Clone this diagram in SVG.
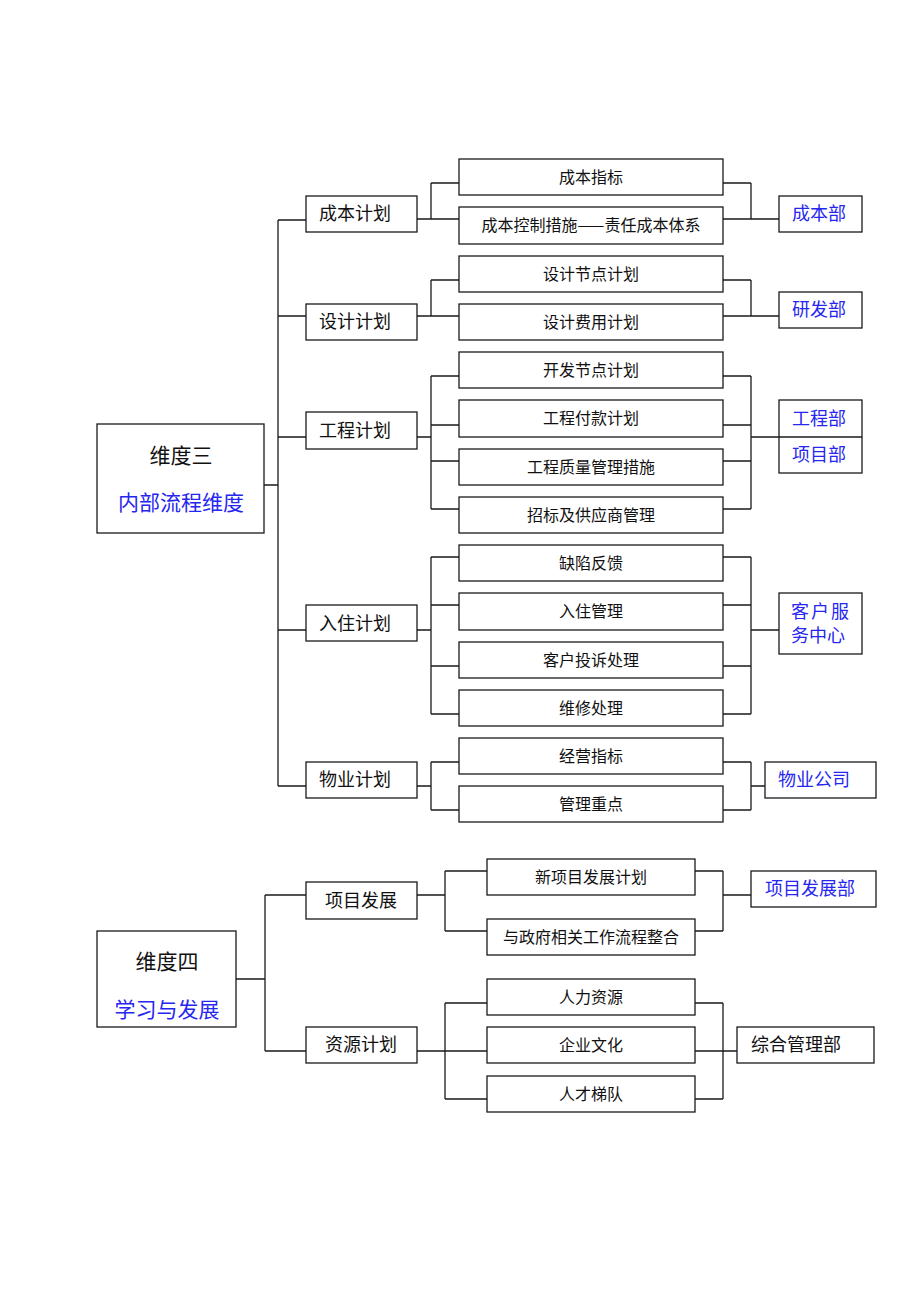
<svg xmlns="http://www.w3.org/2000/svg" width="920" height="1302" viewBox="0 0 920 1302">
<style>
rect{fill:#fff;stroke:#1a1a1a;stroke-width:1.3}
.c path{fill:none;stroke:#1a1a1a;stroke-width:1.3}
text{font-family:"Noto Sans CJK SC","Noto Sans",sans-serif;fill:#111;text-anchor:middle}
.l2{font-size:18px}
.l3{font-size:16px}
.d{font-size:18px;fill:#2626f0}
.t{font-size:21px}
.b{fill:#2626f0}
</style>
<rect width="920" height="1302" style="fill:#fff;stroke:none"/>
<g class="c" id="connectors">
<path d="M264 485H278M278 220V786M278 220H306M278 316H306M278 437H306M278 630H306M278 786H306"/>
<path d="M417 219H431M431 183V219M431 183H459M431 219H459"/>
<path d="M723 183H751M751 183V219M723 219H779"/>
<path d="M417 316H431M431 280V316M431 280H459M431 316H459"/>
<path d="M723 280H751M751 280V316M723 316H779"/>
<path d="M417 437H431M431 376V509M431 376H459M431 425H459M431 461H459M431 509H459"/>
<path d="M723 376H751M751 376V509M723 425H751M723 461H751M723 509H751M751 437H779"/>
<path d="M417 630H431M431 557V714M431 557H459M431 605H459M431 666H459M431 714H459"/>
<path d="M723 557H751M751 557V714M723 605H751M723 666H751M723 714H751M751 630H779"/>
<path d="M417 786H431M431 762V810M431 762H459M431 810H459"/>
<path d="M723 762H751M751 762V810M723 810H751M751 786H765"/>
<path d="M236 979H265M265 895V1051M265 895H306M265 1051H306"/>
<path d="M417 895H445M445 871V931M445 871H487M445 931H487"/>
<path d="M695 871H723M723 871V931M695 931H723M723 895H751"/>
<path d="M417 1051H487M445 1003V1099M445 1003H487M445 1099H487"/>
<path d="M695 1003H723M723 1003V1099M695 1099H723M695 1051H737"/>
</g>
<g id="dim3"><rect x="97" y="424" width="167" height="109"/><text class="t" x="181" y="463">维度三</text><text class="t b" x="181" y="510">内部流程维度</text></g>
<g id="n-cbjh"><rect x="306" y="196" width="111" height="36"/><text class="l2" x="355" y="220">成本计划</text></g>
<g id="n-sjjh"><rect x="306" y="304" width="111" height="36"/><text class="l2" x="355" y="328">设计计划</text></g>
<g id="n-gcjh"><rect x="306" y="412" width="111" height="37"/><text class="l2" x="355" y="437">工程计划</text></g>
<g id="n-rzjh"><rect x="306" y="605" width="111" height="36"/><text class="l2" x="355" y="630">入住计划</text></g>
<g id="n-wyjh"><rect x="306" y="762" width="111" height="36"/><text class="l2" x="355" y="786">物业计划</text></g>
<g id="n-cbzb"><rect x="459" y="159" width="264" height="36"/><text class="l3" x="591" y="183">成本指标</text></g>
<g id="n-cbkz"><rect x="459" y="207" width="264" height="37"/><text class="l3" x="591" y="231">成本控制措施——责任成本体系</text></g>
<g id="n-sjjd"><rect x="459" y="256" width="264" height="36"/><text class="l3" x="591" y="280">设计节点计划</text></g>
<g id="n-sjfy"><rect x="459" y="304" width="264" height="36"/><text class="l3" x="591" y="328">设计费用计划</text></g>
<g id="n-kfjd"><rect x="459" y="352" width="264" height="36"/><text class="l3" x="591" y="376">开发节点计划</text></g>
<g id="n-gcfk"><rect x="459" y="400" width="264" height="37"/><text class="l3" x="591" y="424">工程付款计划</text></g>
<g id="n-gczl"><rect x="459" y="449" width="264" height="36"/><text class="l3" x="591" y="473">工程质量管理措施</text></g>
<g id="n-zb"><rect x="459" y="497" width="264" height="36"/><text class="l3" x="591" y="521">招标及供应商管理</text></g>
<g id="n-qxfk"><rect x="459" y="545" width="264" height="36"/><text class="l3" x="591" y="569">缺陷反馈</text></g>
<g id="n-rzgl"><rect x="459" y="593" width="264" height="37"/><text class="l3" x="591" y="617">入住管理</text></g>
<g id="n-khts"><rect x="459" y="642" width="264" height="36"/><text class="l3" x="591" y="666">客户投诉处理</text></g>
<g id="n-wxcl"><rect x="459" y="690" width="264" height="36"/><text class="l3" x="591" y="714">维修处理</text></g>
<g id="n-jyzb"><rect x="459" y="738" width="264" height="36"/><text class="l3" x="591" y="762">经营指标</text></g>
<g id="n-glzd"><rect x="459" y="786" width="264" height="36"/><text class="l3" x="591" y="810">管理重点</text></g>
<g id="d-cbb"><rect x="779" y="196" width="83" height="36"/><text class="d" x="819" y="220">成本部</text></g>
<g id="d-yfb"><rect x="779" y="292" width="83" height="36"/><text class="d" x="819" y="316">研发部</text></g>
<g id="d-gcb"><rect x="779" y="400" width="83" height="73"/><path d="M779 437H862" style="stroke:#1a1a1a;stroke-width:1.3"/><text class="d" x="819" y="425">工程部</text><text class="d" x="819" y="461">项目部</text></g>
<g id="d-khfw"><rect x="779" y="593" width="83" height="61"/><text class="d" x="791" y="618" style="text-anchor:start;letter-spacing:2px">客户服</text><text class="d" x="791" y="642" style="text-anchor:start">务中心</text></g>
<g id="d-wygs"><rect x="765" y="762" width="111" height="36"/><text class="d" x="814" y="786">物业公司</text></g>
<g id="dim4"><rect x="97" y="931" width="139" height="96"/><text class="t" x="167" y="969">维度四</text><text class="t b" x="167" y="1017">学习与发展</text></g>
<g id="n-xmfz"><rect x="306" y="882" width="111" height="37"/><text class="l2" x="361" y="907">项目发展</text></g>
<g id="n-zyjh"><rect x="306" y="1027" width="111" height="36"/><text class="l2" x="361" y="1051">资源计划</text></g>
<g id="n-xxm"><rect x="487" y="859" width="208" height="36"/><text class="l3" x="591" y="883">新项目发展计划</text></g>
<g id="n-zf"><rect x="487" y="919" width="208" height="36"/><text class="l3" x="591" y="943">与政府相关工作流程整合</text></g>
<g id="n-rlzy"><rect x="487" y="979" width="208" height="36"/><text class="l3" x="591" y="1003">人力资源</text></g>
<g id="n-qywh"><rect x="487" y="1027" width="208" height="36"/><text class="l3" x="591" y="1051">企业文化</text></g>
<g id="n-rctd"><rect x="487" y="1076" width="208" height="36"/><text class="l3" x="591" y="1100">人才梯队</text></g>
<g id="d-xmfzb"><rect x="751" y="871" width="125" height="36"/><text class="d" x="810" y="895">项目发展部</text></g>
<g id="d-zhgl"><rect x="737" y="1027" width="137" height="36"/><text class="l2" x="796" y="1051">综合管理部</text></g>
</svg>
